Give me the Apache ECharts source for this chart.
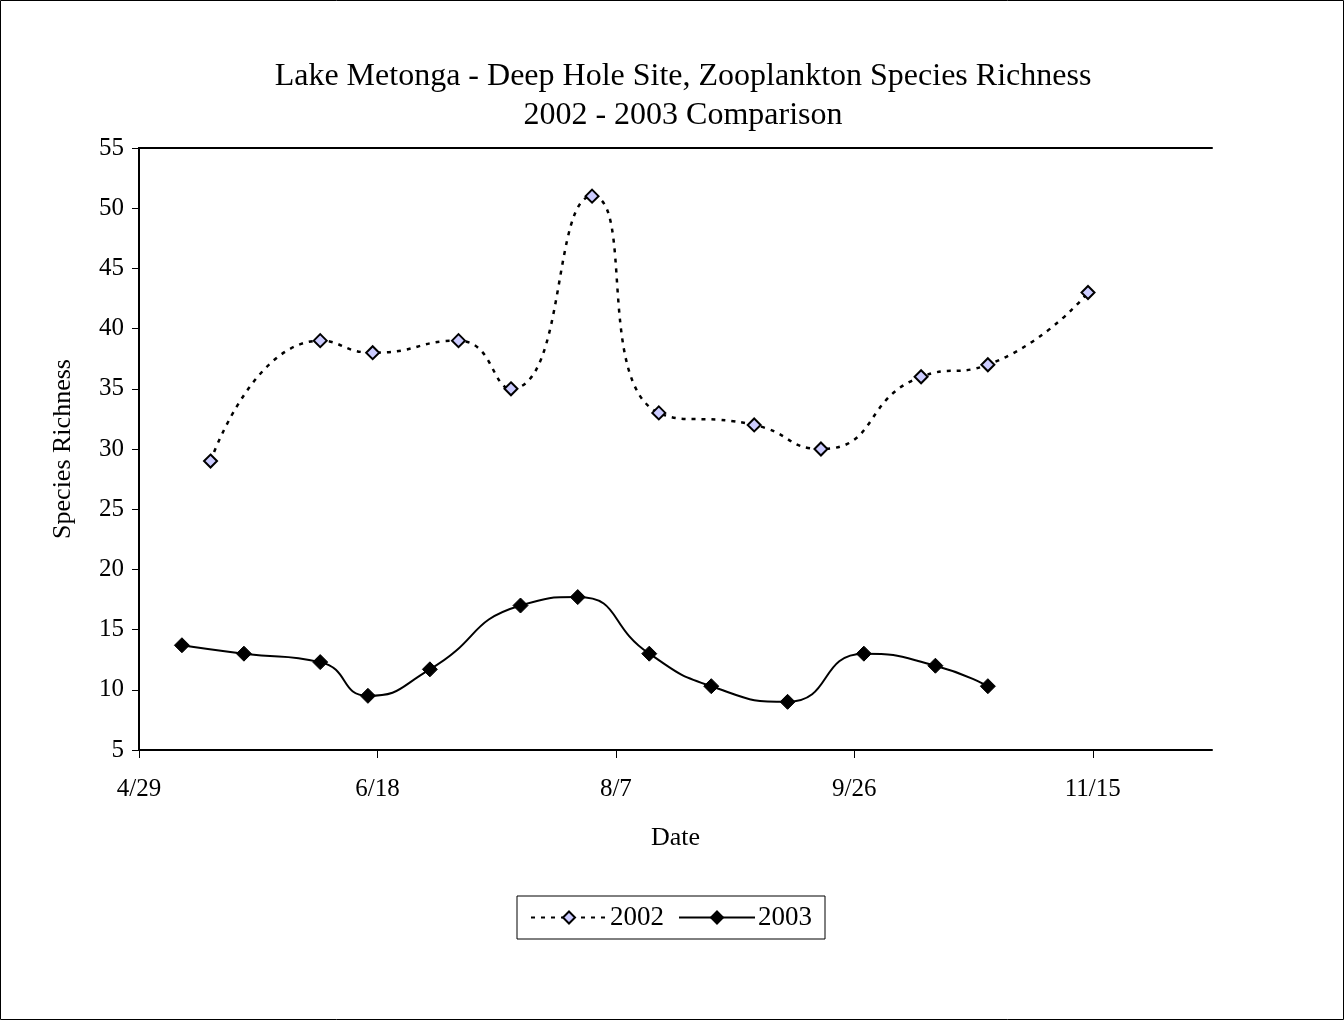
<!DOCTYPE html>
<html>
<head>
<meta charset="utf-8">
<script src="https://cdn.jsdelivr.net/npm/echarts@6/dist/echarts.min.js"></script>
<style>
  html, body { margin: 0; padding: 0; background: #fff; }
  #chart { width: 1344px; height: 1020px; }
</style>
</head>
<body>
<div id="chart"></div>
<script>
// sample dates (month/day) and species counts
var dates2002 = ['5/14', '6/6', '6/17', '7/5', '7/16', '8/2', '8/16', '9/5', '9/19', '10/10', '10/24', '11/14'];
var rich2002 = [29, 39, 38, 39, 35, 51, 33, 32, 30, 36, 37, 43];

var dates2003 = ['5/8', '5/21', '6/6', '6/16', '6/29', '7/18', '7/30', '8/14', '8/27', '9/12', '9/28', '10/13', '10/24'];
var rich2003 = [13.7, 13, 12.3, 9.5, 11.7, 17, 17.7, 13, 10.3, 9, 13, 12, 10.3];

var startDate = '4/29';
var DAY = 86400000;

function toDay(s) {
  var p = s.split('/');
  var s0 = startDate.split('/');
  return (Date.UTC(2002, +p[0] - 1, +p[1]) - Date.UTC(2002, +s0[0] - 1, +s0[1])) / DAY;
}
function fromDay(v) {
  var s0 = startDate.split('/');
  var d = new Date(Date.UTC(2002, +s0[0] - 1, +s0[1]) + v * DAY);
  return (d.getUTCMonth() + 1) + '/' + d.getUTCDate();
}
function pairs(ds, vs) {
  return ds.map(function (d, i) { return [toDay(d), vs[i]]; });
}

var font = 'Liberation Serif, Times New Roman, serif';
var chart = echarts.init(document.getElementById('chart'));

// frame lines on top/right side of plot, like Excel's plot area box
var frameAxis = {
  axisLine: { show: true, lineStyle: { color: '#000', width: 2 } },
  axisTick: { show: false }, axisLabel: { show: false }, splitLine: { show: false }
};

chart.setOption({
  backgroundColor: '#fff',
  animation: false,
  textStyle: { fontFamily: font, color: '#000' },
  title: {
    text: 'Lake Metonga - Deep Hole Site, Zooplankton Species Richness\n2002 - 2003 Comparison',
    left: 678, top: 52, textAlign: 'center',
    textStyle: { fontFamily: font, fontSize: 32, fontWeight: 'normal', color: '#000', lineHeight: 39 }
  },
  graphic: [{
    type: 'rect', silent: true,
    shape: { x: 0.5, y: 0.5, width: 1343, height: 1019 },
    style: { fill: null, stroke: '#000', lineWidth: 1 }
  }],
  legend: {
    left: 517, top: 896,
    padding: [8, 13, 8, 13],
    borderColor: '#000', borderWidth: 1,
    itemWidth: 76, itemHeight: 15, itemGap: 14,
    textStyle: { fontFamily: font, fontSize: 27, color: '#000', padding: [0, 0, 0, -2] },
    data: ['2002', '2003']
  },
  grid: { left: 139, right: 132, top: 148, bottom: 270 },
  xAxis: [{
    type: 'value', min: 0, max: 225, interval: 50,
    name: 'Date', nameLocation: 'middle', nameGap: 75,
    nameTextStyle: { fontFamily: font, fontSize: 26, color: '#000' },
    axisLine: { lineStyle: { color: '#000', width: 2 } },
    axisTick: { show: true, inside: false, length: 8, lineStyle: { color: '#000', width: 1 } },
    axisLabel: { margin: 27, fontFamily: font, fontSize: 25, color: '#000', formatter: fromDay,
      showMaxLabel: false },
    splitLine: { show: false }
  }, Object.assign({ type: 'value', min: 0, max: 225, position: 'top' }, frameAxis)],
  yAxis: [{
    type: 'value', min: 5, max: 55, interval: 5,
    name: 'Species Richness', nameLocation: 'middle', nameGap: 63,
    nameTextStyle: { fontFamily: font, fontSize: 26, color: '#000' },
    axisLine: { show: true, lineStyle: { color: '#000', width: 2 } },
    axisTick: { show: true, inside: false, length: 7, lineStyle: { color: '#000', width: 1 } },
    axisLabel: { margin: 15, fontFamily: font, fontSize: 25, color: '#000' },
    splitLine: { show: false }
  }, Object.assign({ type: 'value', min: 5, max: 55, position: 'right' }, frameAxis)],
  series: [{
    name: '2002', type: 'line',
    data: pairs(dates2002, rich2002),
    smooth: 0.55,
    symbol: 'diamond', symbolSize: 13,
    lineStyle: { color: '#000', width: 2.5, type: [4, 6] },
    itemStyle: { color: '#ccccff', borderColor: '#000', borderWidth: 2 }
  }, {
    name: '2003', type: 'line',
    data: pairs(dates2003, rich2003),
    smooth: 0.55,
    symbol: 'diamond', symbolSize: 15,
    lineStyle: { color: '#000', width: 2 },
    itemStyle: { color: '#000', borderColor: '#000', borderWidth: 1 }
  }]
});
</script>
</body>
</html>
